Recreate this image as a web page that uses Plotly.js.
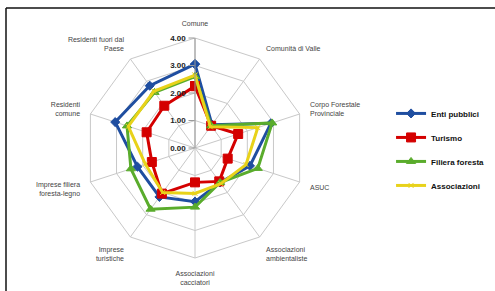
<!DOCTYPE html>
<html>
<head>
<meta charset="utf-8">
<script src="https://cdn.plot.ly/plotly-3.0.1.min.js"></script>
<style>html,body{margin:0;padding:0;background:#fff;}#chart{width:495px;height:291px;}</style>
</head>
<body>
<div id="chart"></div>
<script>
const categories = [
  "Comune",
  "Comunità di Valle",
  "Corpo Forestale<br>Provinciale",
  "ASUC",
  "Associazioni<br>ambientaliste",
  "Associazioni<br>cacciatori",
  "Imprese<br>turistiche",
  "Imprese filiera<br>foresta-legno",
  "Residenti<br>comune",
  "Residenti fuori dal<br>Paese"
];
const seriesNames = ["Enti pubblici", "Turismo", "Filiera foresta", "Associazioni"];
const entiPubblici = [3.05, 1.05, 2.90, 2.10, 1.55, 1.95, 2.20, 2.20, 3.05, 2.80];
const turismo      = [2.25, 1.00, 1.65, 1.25, 1.50, 1.25, 2.05, 1.65, 1.85, 1.90];
const filieraForesta = [2.60, 1.00, 2.95, 2.40, 1.55, 2.15, 2.75, 2.45, 2.60, 2.50];
const associazioni = [2.65, 0.95, 2.40, 1.95, 1.60, 1.65, 2.00, 1.90, 2.55, 2.55];
const radialTicks = [0, 1, 2, 3, 4];

const colors = ["#1f4ea0", "#d40000", "#5aac2c", "#e8d21a"];
const symbols = ["diamond", "square", "triangle-up", "x-thin-open"];
const sizes = [7, 9, 8, 5];
const allSeries = [entiPubblici, turismo, filieraForesta, associazioni];

const close = a => a.concat([a[0]]);
const traces = allSeries.map((vals, i) => ({
  type: "scatterpolar",
  mode: "lines+markers",
  name: seriesNames[i],
  legendgroup: "g" + i,
  r: close(vals),
  theta: close(categories),
  line: {color: colors[i], width: 3},
  marker: {symbol: symbols[i], size: sizes[i], color: colors[i], line: {color: colors[i], width: 1}},
  cliponaxis: false
}));

const layout = {
  width: 495, height: 291,
  margin: {l: 0, r: 0, t: 0, b: 0},
  paper_bgcolor: "#ffffff",
  font: {family: "Liberation Sans, Arial, sans-serif", size: 7, color: "#444"},
  showlegend: true,
  legend: {
    x: 0.79, y: 0.66, xanchor: "left", yanchor: "top",
    font: {size: 8, color: "#111", weight: "bold"},
    bgcolor: "rgba(0,0,0,0)",
    tracegroupgap: 5,
    itemwidth: 30
  },
  polar: {
    domain: {x: [0.1717, 0.6162], y: [0.1134, 0.8694]},
    bgcolor: "#ffffff",
    gridshape: "linear",
    angularaxis: {
      direction: "clockwise",
      rotation: 90,
      type: "category",
      categoryarray: categories,
      showline: true,
      linecolor: "#c8c8c8",
      linewidth: 1,
      gridcolor: "#c8c8c8",
      ticks: "outside",
      ticklen: 9,
      tickcolor: "rgba(0,0,0,0)",
      tickfont: {size: 7, color: "#444"}
    },
    radialaxis: {
      range: [0, 4],
      tickvals: radialTicks,
      tickformat: ".2f",
      angle: 90,
      tickangle: 90,
      side: "counterclockwise",
      showline: true,
      linecolor: "#999",
      gridcolor: "#c8c8c8",
      ticks: "outside",
      ticklen: 6,
      tickcolor: "#999",
      tickfont: {size: 8, color: "#222", weight: "bold"}
    }
  },
  shapes: [
    {type: "line", xref: "paper", yref: "paper", x0: 6/495, x1: 6/495, y0: -0.1, y1: 1 - 8/291, line: {color: "#111", width: 1.5}},
    {type: "line", xref: "paper", yref: "paper", x0: 6/495, x1: 1.1, y0: 1 - 8/291, y1: 1 - 8/291, line: {color: "#111", width: 1.5}}
  ]
};

Plotly.newPlot("chart", traces, layout, {displayModeBar: false, staticPlot: true});
</script>
</body>
</html>
